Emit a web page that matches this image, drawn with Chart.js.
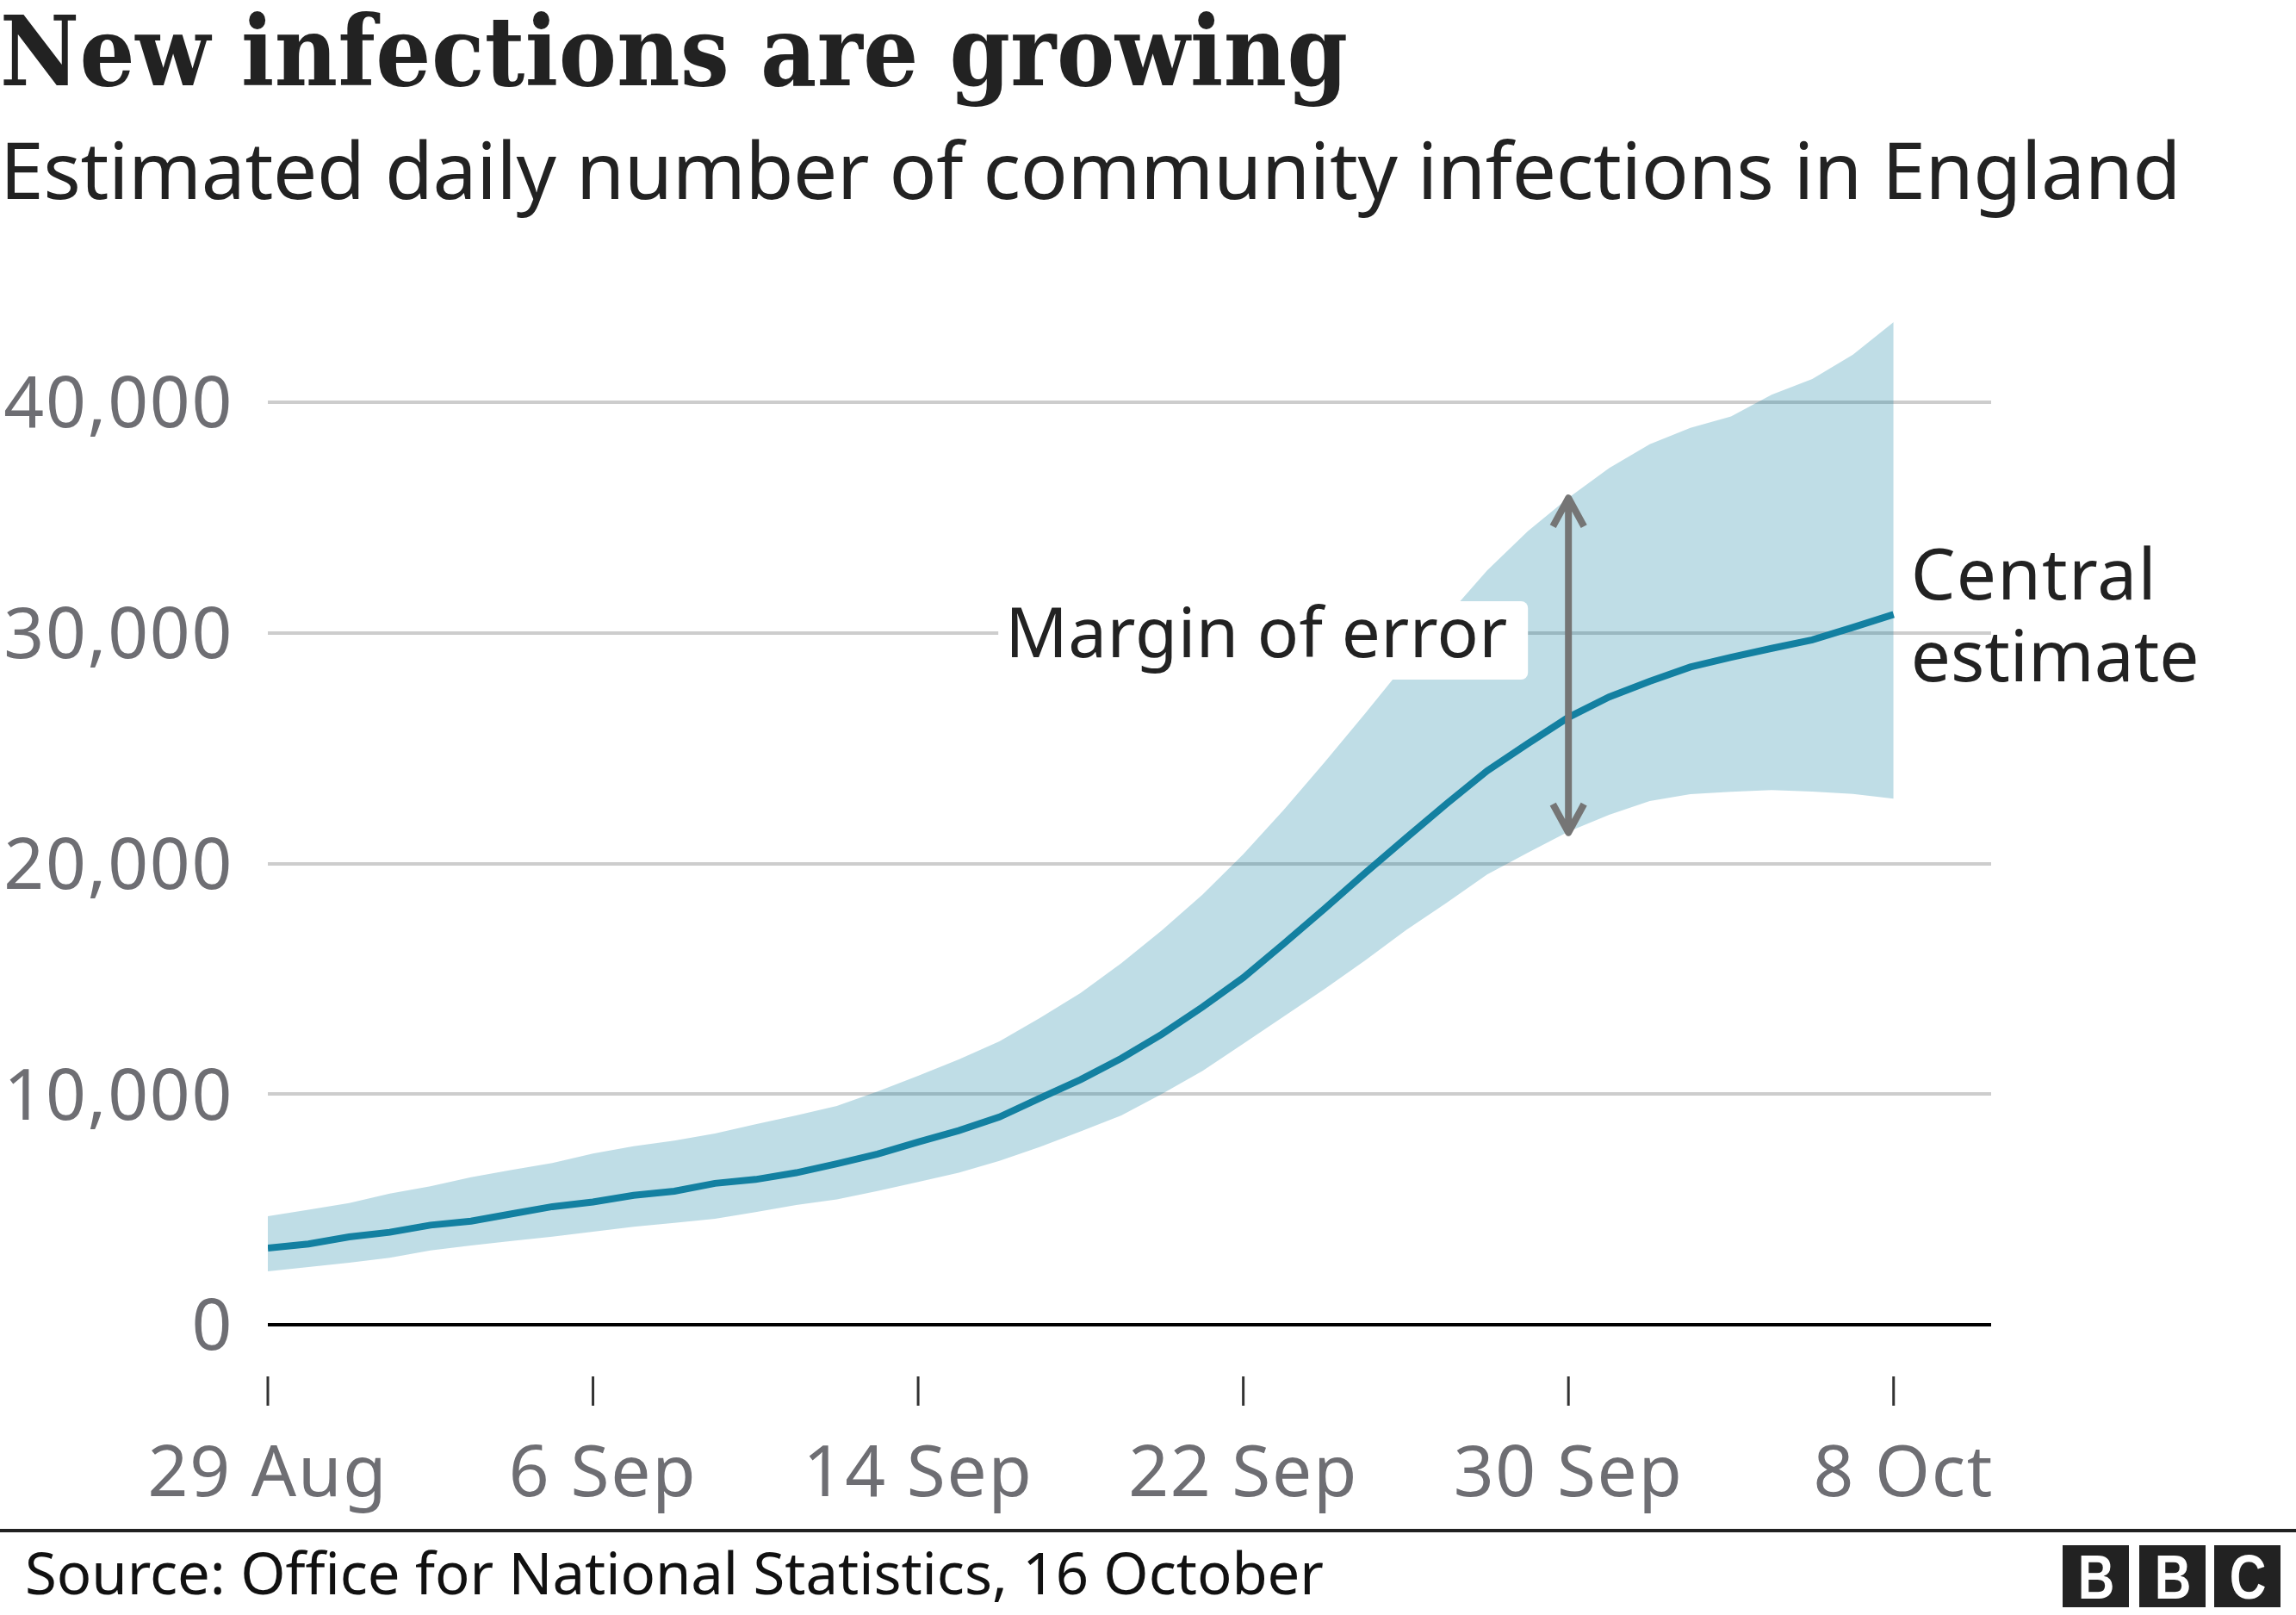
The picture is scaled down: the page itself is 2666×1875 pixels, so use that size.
<!DOCTYPE html>
<html>
<head>
<meta charset="utf-8">
<title>New infections are growing</title>
<script src="https://cdn.jsdelivr.net/npm/chart.js@4/dist/chart.umd.min.js"></script>
<style>
    html, body { margin: 0; padding: 0; background: #fff; }
    body { position: relative; width: 2666px; height: 1875px; overflow: hidden; }
    canvas { position: absolute; left: 0; top: 0; }
    .txt { position: absolute; white-space: nowrap; }
    #title { left: 0; top: -6px; font: bold 112px "DejaVu Serif Condensed", "DejaVu Serif", serif; color: #222; letter-spacing: 0.5px; }
    #subtitle { left: 0; top: 134px; font: 91px "Noto Sans", sans-serif; color: #222; letter-spacing: -0.35px; }
    #source { left: 29px; top: 1779px; font: 67px "Noto Sans", sans-serif; color: #111; letter-spacing: -0.03px; }
    #rule { position: absolute; left: 0; top: 1775px; width: 2666px; height: 4px; background: #222; }
    .bbc { position: absolute; top: 1794px; width: 77px; height: 72px; background: #222; color: #fff;
           font: bold 72px/74px "Liberation Sans", sans-serif; text-align: center; }
    .bbc span { display: inline-block; transform: scaleX(0.82); }
</style>
</head>
<body>
<canvas id="chart" width="2666" height="1875"></canvas>
<div id="title" class="txt">New infections are growing</div>
<div id="subtitle" class="txt">Estimated daily number of community infections in England</div>
<div id="rule"></div>
<div id="source" class="txt">Source: Office for National Statistics, 16 October</div>
<div class="bbc" style="left:2395px"><span>B</span></div>
<div class="bbc" style="left:2484px"><span>B</span></div>
<div class="bbc" style="left:2571px"><span>C</span></div>

<script>
// days since 29 Aug, one reading per day
const days = [0,1,2,3,4,5,6,7,8,9,10,11,12,13,14,15,16,17,18,19,20,21,22,23,24,25,26,27,28,29,30,31,32,33,34,35,36,37,38,39,40];

const central = [3320,3500,3810,4010,4320,4490,4810,5120,5320,5610,5790,6130,6300,6590,6980,7400,7920,8420,9010,9830,10630,11550,
    12600,13780,15050,16530,18040,19590,21100,22590,24020,25200,26340,27220,27900,28520,28940,29330,29700,30240,30800];
const upper = [4710,4990,5280,5690,6000,6400,6710,7010,7420,7740,7980,8290,8690,9080,9490,10110,10790,11500,12290,13310,14390,15680,
    17110,18660,20400,22340,24390,26510,28690,30700,32710,34410,35860,37150,38180,38890,39390,40330,41010,42070,43480];
const lower = [2320,2500,2690,2900,3220,3440,3630,3820,4030,4250,4420,4590,4880,5190,5430,5800,6190,6590,7110,7710,8390,9080,
    10010,11010,12190,13370,14560,15800,17110,18290,19530,20470,21380,22110,22710,23010,23110,23190,23120,23020,22810];

const xTickDays = [0, 8, 16, 24, 32, 40];
const xTickLabels = ["29 Aug", "6 Sep", "14 Sep", "22 Sep", "30 Sep", "8 Oct"];
const yTickValues = [0, 10000, 20000, 30000, 40000];
const yTickLabels = ["0", "10,000", "20,000", "30,000", "40,000"];

// annotation anchors
const arrowDay = 32;
const arrowTop = 35850;
const arrowBottom = 21340;

const TEXT_DARK = "#222222";
const TEXT_GREY = "#6e6e73";

// tick marks under the axis and the annotations
const annotations = {
    id: "annotations",
    beforeDraw(chart) {
        // tick labels are a touch wider in the original
        chart.ctx.letterSpacing = "1.7px";
    },
    afterDraw(chart) {
        const ctx = chart.ctx;
        const x = chart.scales.x;
        const y = chart.scales.y;
        ctx.letterSpacing = "0px";
        ctx.save();

        // x ticks sit apart from the zero line
        ctx.strokeStyle = "#333333";
        ctx.lineWidth = 3;
        xTickDays.forEach(d => {
            const px = x.getPixelForValue(d);
            ctx.beginPath();
            ctx.moveTo(px, y.bottom + 60);
            ctx.lineTo(px, y.bottom + 94);
            ctx.stroke();
        });

        // white label box cuts the 30,000 gridline
        const ax = x.getPixelForValue(arrowDay);
        ctx.fillStyle = "#ffffff";
        ctx.beginPath();
        ctx.roundRect(ax - 662, 698, 615, 91, 8);
        ctx.fill();

        ctx.fillStyle = TEXT_DARK;
        ctx.textBaseline = "alphabetic";
        ctx.textAlign = "left";
        ctx.font = '80px "Noto Sans", sans-serif';
        ctx.letterSpacing = "0.4px";
        ctx.fillText("Margin of error", ax - 654, 763);

        const lx = x.getPixelForValue(days[days.length - 1]) + 20;
        ctx.font = '82px "Noto Sans", sans-serif';
        ctx.letterSpacing = "1.2px";
        ctx.fillText("Central", lx, 696);
        ctx.letterSpacing = "0px";
        ctx.fillText("estimate", lx, 791);

        // double headed arrow
        const top = y.getPixelForValue(arrowTop);
        const bottom = y.getPixelForValue(arrowBottom);
        ctx.strokeStyle = "#757575";
        ctx.lineWidth = 8;
        ctx.lineJoin = "round";
        ctx.beginPath();
        ctx.moveTo(ax, top);
        ctx.lineTo(ax, bottom);
        ctx.moveTo(ax - 18, top + 33);
        ctx.lineTo(ax, top);
        ctx.lineTo(ax + 18, top + 33);
        ctx.moveTo(ax - 18, bottom - 33);
        ctx.lineTo(ax, bottom);
        ctx.lineTo(ax + 18, bottom - 33);
        ctx.stroke();
        ctx.restore();
    }
};

function initChart() {
    const ctx = document.getElementById("chart").getContext("2d");
    const lineStyle = { pointRadius: 0, tension: 0 };

    return new Chart(ctx, {
        type: "line",
        data: {
            labels: days,
            datasets: [
                { label: "Central estimate", data: central, borderColor: "#1380a1", borderWidth: 8, fill: false, ...lineStyle },
                { label: "Upper", data: upper, borderWidth: 0, borderColor: "transparent", fill: "+1", backgroundColor: "rgba(19, 128, 161, 0.27)", ...lineStyle },
                { label: "Lower", data: lower, borderWidth: 0, borderColor: "transparent", fill: false, ...lineStyle }
            ]
        },
        options: {
            responsive: false,
            animation: false,
            layout: { padding: { top: 360, right: 354 } },
            plugins: { legend: { display: false }, tooltip: { enabled: false } },
            scales: {
                x: {
                    type: "linear",
                    min: 0,
                    max: 42.4,
                    afterBuildTicks: scale => { scale.ticks = xTickDays.map(value => ({ value })); },
                    afterFit: scale => { scale.height = 337; },
                    grid: { display: false },
                    border: { display: false },
                    ticks: {
                        autoSkip: false,
                        maxRotation: 0,
                        padding: 118,
                        color: TEXT_GREY,
                        font: { family: '"Noto Sans", sans-serif', size: 82 },
                        // leading space nudges these two labels right, as in the original
                        callback: value => (value === 8 || value === 40 ? " " : "") + xTickLabels[xTickDays.indexOf(value)]
                    }
                },
                y: {
                    min: 0,
                    max: 44000,
                    afterBuildTicks: scale => { scale.ticks = yTickValues.map(value => ({ value })); },
                    afterFit: scale => { scale.width = 311; },
                    grid: {
                        drawTicks: false,
                        lineWidth: 4,
                        color: c => (c.tick.value === 0 ? "#000000" : "#cdcdcd")
                    },
                    border: { display: false },
                    ticks: {
                        padding: 40,
                        labelOffset: 6,
                        color: TEXT_GREY,
                        font: { family: '"Noto Sans", sans-serif', size: 82 },
                        callback: value => yTickLabels[yTickValues.indexOf(value)]
                    }
                }
            }
        },
        plugins: [annotations]
    });
}

document.addEventListener("DOMContentLoaded", initChart);
</script>
</body>
</html>
